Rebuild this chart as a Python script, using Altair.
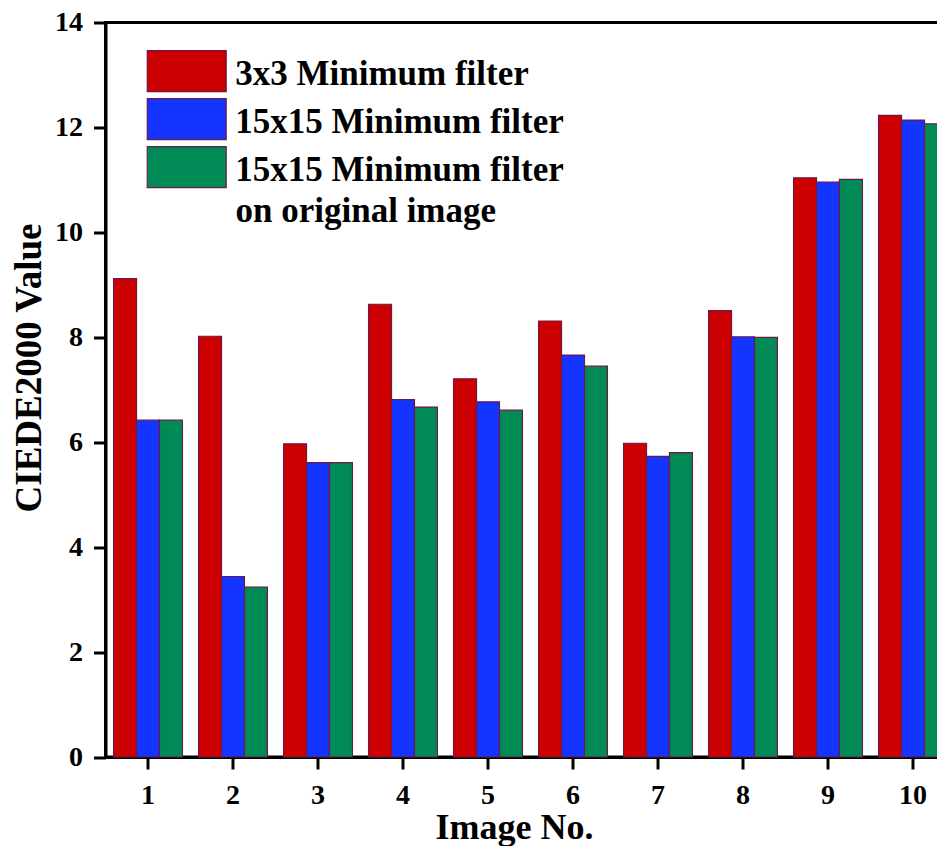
import altair as alt
import pandas as pd

images = ["1", "2", "3", "4", "5", "6", "7", "8", "9", "10"]
series = ["3x3 Minimum filter", "15x15 Minimum filter", "15x15 Minimum filter on original image"]
note = "on original image"
red_vals = [9.12, 8.02, 5.97, 8.63, 7.21, 8.31, 5.98, 8.51, 11.04, 12.23]
blue_vals = [6.42, 3.44, 5.61, 6.81, 6.77, 7.66, 5.73, 8.01, 10.96, 12.14]
green_vals = [6.42, 3.24, 5.61, 6.67, 6.61, 7.45, 5.80, 8.00, 11.01, 12.07]
colors = ["#CC0000", "#1434FF", "#008A55"]
y_ticks = [0, 2, 4, 6, 8, 10, 12, 14]

rows = []
for s, vals in zip(series, [red_vals, blue_vals, green_vals]):
    for img, v in zip(images, vals):
        rows.append({"image": img, "series": s, "value": v, "note": note})
df = pd.DataFrame(rows)

FONT = "Liberation Serif"
STROKE = "#6e1846"

bars = alt.Chart(df).mark_bar(stroke=STROKE, strokeWidth=1.2).encode(
    x=alt.X(
        "image:N", sort=images,
        scale=alt.Scale(paddingInner=0.19, paddingOuter=0.095),
        axis=alt.Axis(title="Image No.", labelAngle=0, labelPadding=12,
                      titleX=408.5, titleY=81.5, titleAlign="center",
                      titleBaseline="alphabetic", titleFontSize=36),
    ),
    xOffset=alt.XOffset("series:N", sort=series,
                        scale=alt.Scale(paddingInner=0, paddingOuter=0)),
    y=alt.Y(
        "value:Q",
        scale=alt.Scale(domain=[0, 14], nice=False),
        axis=alt.Axis(title="CIEDE2000 Value", values=y_ticks, labelPadding=11,
                      titleX=-65.5, titleY=345, titleAlign="center",
                      titleBaseline="alphabetic", titleFontSize=37),
    ),
    color=alt.Color(
        "series:N",
        scale=alt.Scale(domain=series, range=colors),
        legend=alt.Legend(
            title=None, orient="none", legendX=40.7, legendY=27.6,
            symbolType="M-1,-0.592H1V0.446H-1Z", symbolSize=6241,
            symbolStrokeColor=STROKE, symbolStrokeWidth=1.2, symbolOpacity=1,
            clipHeight=48, rowPadding=-0.5, padding=0, offset=0,
            labelFont=FONT, labelFontSize=35, labelFontWeight="bold",
            labelColor="black", labelOffset=8, labelBaseline="middle",
            labelLimit=600,
            labelExpr="datum.label == '15x15 Minimum filter on original image' ? '15x15 Minimum filter' : datum.label",
        ),
    ),
    opacity=alt.Opacity(
        "note:O",
        scale=alt.Scale(domain=[note], range=[1]),
        legend=alt.Legend(
            title=None, orient="none", legendX=95, legendY=164.5,
            symbolSize=0, symbolStrokeWidth=0, symbolOpacity=0,
            clipHeight=48, padding=0, offset=0,
            labelFont=FONT, labelFontSize=35, labelFontWeight="bold",
            labelColor="black", labelOffset=0, labelBaseline="middle",
            labelLimit=600,
        ),
    ),
).properties(width=850, height=734.5)

chart = bars.properties(
    autosize=alt.AutoSizeParams(type="none"),
    padding={"left": 97.5, "top": 14.5, "right": -18.5, "bottom": 89},
).configure_view(
    stroke="black", strokeWidth=3
).configure_axis(
    grid=False, domainColor="black", domainWidth=3,
    tickColor="black", tickWidth=3, tickSize=12,
    labelFont=FONT, labelFontSize=28, labelFontWeight="bold", labelColor="black",
    titleFont=FONT, titleFontWeight="bold", titleColor="black",
)

chart.save("out.html", embed_options={"renderer": "svg", "actions": False})
